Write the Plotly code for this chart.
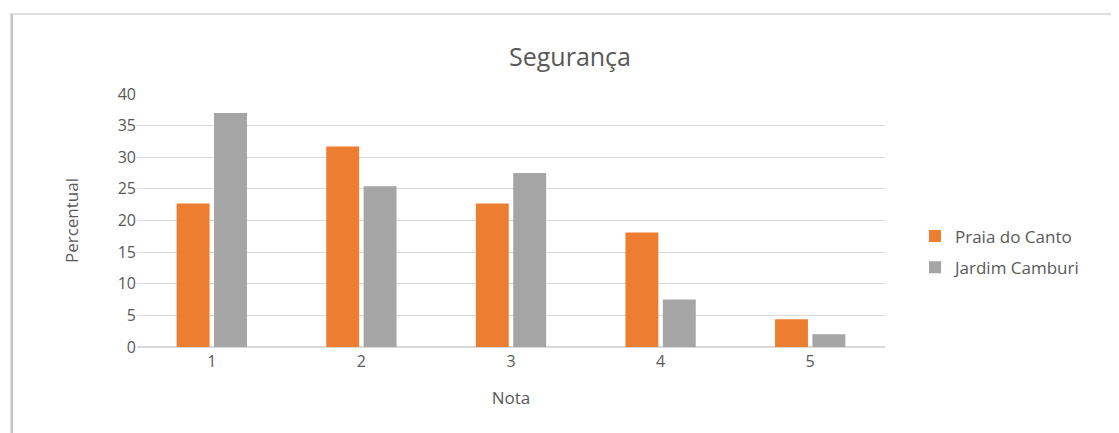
import plotly.graph_objects as go

categories = ["1", "2", "3", "4", "5"]
praia_do_canto = [22.7, 31.7, 22.7, 18.1, 4.4]
jardim_camburi = [37.0, 25.4, 27.5, 7.5, 2.0]
series_names = ["Praia do Canto", "Jardim Camburi"]
y_ticks = [0, 5, 10, 15, 20, 25, 30, 35, 40]

FONT = "Open Sans"
TXT = "#595959"

# page body has an 8px margin; work in screen coords and shift
OFF = 8
W, H = 1119 - OFF, 433 - OFF
L, R, T, B = 137 - OFF, 885 - OFF, 94 - OFF, 347 - OFF
pw, ph = R - L, B - T


def px(x):
    return (x - OFF - L) / pw


def py(y):
    return (B - (y - OFF)) / ph


fig = go.Figure()
fig.add_trace(go.Bar(x=categories, y=praia_do_canto, name=series_names[0],
                     legendgroup="g1",
                     marker=dict(color="#ED7D31", line=dict(width=0))))
fig.add_trace(go.Bar(x=categories, y=jardim_camburi, name=series_names[1],
                     legendgroup="g2",
                     marker=dict(color="#A5A5A5", line=dict(width=0))))

fig.update_layout(
    width=W, height=H,
    margin=dict(l=L, r=W - R, t=T, b=H - B, pad=0),
    paper_bgcolor="white", plot_bgcolor="white",
    barmode="group", bargap=0.5, bargroupgap=0.12,
    font=dict(family=FONT, color=TXT, size=16),
    title=dict(text="Segurança", x=px(570), xref="paper", xanchor="center",
               y=1 - (57 - OFF) / H, yref="container", yanchor="middle",
               font=dict(size=25, color=TXT, family=FONT)),
    legend=dict(x=px(915), xanchor="left", y=py(252), yanchor="middle",
                font=dict(size=17, color=TXT), itemsizing="constant",
                tracegroupgap=6, bgcolor="rgba(0,0,0,0)"),
    xaxis=dict(title=dict(text="Nota", standoff=20, font=dict(size=17, color=TXT)),
               showgrid=False, showline=True, linecolor="#D9D9D9", linewidth=1,
               ticks="", tickfont=dict(size=16, color=TXT)),
    yaxis=dict(title=dict(text="Percentual", standoff=34, font=dict(size=17, color=TXT)),
               range=[0, 40], tickvals=y_ticks, showgrid=True, gridcolor="#D9D9D9",
               gridwidth=1, zeroline=True, zerolinecolor="#D9D9D9", showline=False,
               ticks="", tickfont=dict(size=16, color=TXT)),
    shapes=[
        dict(type="rect", xref="paper", yref="paper",
             x0=px(11), x1=px(1160), y0=py(470), y1=py(14),
             line=dict(color="#E0E0E0", width=2), layer="below"),
        dict(type="line", xref="paper", yref="paper",
             x0=px(12), x1=px(12), y0=py(470), y1=py(14),
             line=dict(color="#C4C4C4", width=2), layer="below"),
    ],
)

fig.write_html("out.html")
